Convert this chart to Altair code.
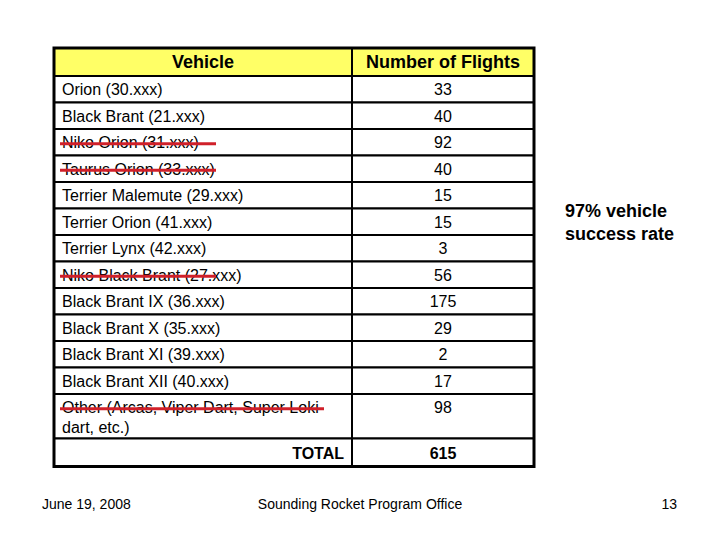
import altair as alt
import pandas as pd

# ---------------- data ----------------
header = ["Vehicle", "Number of Flights"]
vehicles = [
    "Orion  (30.xxx)",
    "Black Brant  (21.xxx)",
    "Niko Orion  (31.xxx)",
    "Taurus Orion  (33.xxx)",
    "Terrier Malemute  (29.xxx)",
    "Terrier Orion  (41.xxx)",
    "Terrier Lynx  (42.xxx)",
    "Niko Black Brant  (27.xxx)",
    "Black Brant IX  (36.xxx)",
    "Black Brant X  (35.xxx)",
    "Black Brant XI  (39.xxx)",
    "Black Brant XII  (40.xxx)",
    "Other (Arcas, Viper Dart, Super Loki\ndart, etc.)",
]
flights = [33, 40, 92, 40, 15, 15, 3, 56, 175, 29, 2, 17, 98]
struck = [False, False, True, True, False, False, False, True, False, False, False, False, True]
total_label = "TOTAL"
total_value = 615
note_text = "97% vehicle\nsuccess rate"
footer_left = "June 19, 2008"
footer_center = "Sounding Rocket Program Office"
footer_right = "13"

# ---------------- layout (page pixels) ----------------
FONT = "Liberation Sans"
LEFT, SPLIT, RIGHT = 54, 352, 534
TOP = 48
HEADER_H = 28
ROW_H = 26.5
EXTRA_LINE_H = 18
LINE_H = 20
TOTAL_H = 28
PAD = 8
TXT_DY = 1
YELLOW = "#ffff66"
RED = "#d0202a"

xs = alt.Scale(domain=[8, 712], nice=False, zero=False)
ys = alt.Scale(domain=[8, 532], nice=False, zero=False, reverse=True)


def X(f):
    return alt.X(f, type="quantitative", scale=xs, axis=None)


def X2(f):
    return alt.X2(f)


def Y(f):
    return alt.Y(f, type="quantitative", scale=ys, axis=None)


def Y2(f):
    return alt.Y2(f)


cells, body_txt, strikes = [], [], []
y = TOP
for i, h in enumerate(header):
    x0, x1 = (LEFT, SPLIT) if i == 0 else (SPLIT, RIGHT)
    cells.append(dict(x=x0, x2=x1, y=y, y2=y + HEADER_H, fill=YELLOW))
y += HEADER_H
for v, f, s in zip(vehicles, flights, struck):
    n = v.count("\n") + 1
    h = ROW_H + (n - 1) * EXTRA_LINE_H
    first_center = y + ROW_H / 2
    cells.append(dict(x=LEFT, x2=SPLIT, y=y, y2=y + h, fill="white"))
    cells.append(dict(x=SPLIT, x2=RIGHT, y=y, y2=y + h, fill="white"))
    body_txt.append(dict(
        label=v,
        vx=LEFT + PAD,
        vy=first_center + TXT_DY,
        num=str(f),
        nx=(SPLIT + RIGHT) / 2,
        ny=first_center + TXT_DY,
    ))
    if s:
        strikes.append(dict(x=LEFT + 6, x2=LEFT + 6 + (264 if n > 1 else 156),
                            y=first_center + 1.5))
    y += h
total_top = y
cells.append(dict(x=LEFT, x2=SPLIT, y=y, y2=y + TOTAL_H, fill="white"))
cells.append(dict(x=SPLIT, x2=RIGHT, y=y, y2=y + TOTAL_H, fill="white"))
y += TOTAL_H
table_bottom = y

cells_df = pd.DataFrame(cells)
body_df = pd.DataFrame(body_txt)
strike_df = pd.DataFrame(strikes)

grid = alt.Chart(cells_df).mark_rect(stroke="black", strokeWidth=2).encode(
    x=X("x"), x2=X2("x2"), y=Y("y"), y2=Y2("y2"),
    fill=alt.Fill("fill:N", scale=None),
)
outer = alt.Chart(pd.DataFrame([dict(x=LEFT, x2=RIGHT, y=TOP, y2=table_bottom)])).mark_rect(
    filled=False, stroke="black", strokeWidth=3
).encode(x=X("x"), x2=X2("x2"), y=Y("y"), y2=Y2("y2"))

header_df = pd.DataFrame([
    dict(t=header[0], x=(LEFT + SPLIT) / 2, y=TOP + HEADER_H / 2 + TXT_DY),
    dict(t=header[1], x=(SPLIT + RIGHT) / 2, y=TOP + HEADER_H / 2 + TXT_DY),
])
header_txt = alt.Chart(header_df).mark_text(
    font=FONT, fontSize=18, fontWeight="bold", align="center", baseline="middle", color="black"
).encode(x=X("x"), y=Y("y"), text="t:N")

veh_txt = alt.Chart(body_df).mark_text(
    font=FONT, fontSize=16, align="left", baseline="middle", color="black",
    lineBreak="\n", lineHeight=LINE_H,
).encode(x=X("vx"), y=Y("vy"), text="label:N")

num_txt = alt.Chart(body_df).mark_text(
    font=FONT, fontSize=16, align="center", baseline="middle", color="black"
).encode(x=X("nx"), y=Y("ny"), text="num:N")

strike = alt.Chart(strike_df).mark_rule(color=RED, strokeWidth=3).encode(
    x=X("x"), x2=X2("x2"), y=Y("y")
)

total_txt = alt.Chart(pd.DataFrame([dict(t=total_label, x=SPLIT - PAD,
                                         y=total_top + TOTAL_H / 2 + TXT_DY)])).mark_text(
    font=FONT, fontSize=16, fontWeight="bold", align="right", baseline="middle", color="black"
).encode(x=X("x"), y=Y("y"), text="t:N")
total_num = alt.Chart(pd.DataFrame([dict(t=str(total_value), x=(SPLIT + RIGHT) / 2,
                                         y=total_top + TOTAL_H / 2 + TXT_DY)])).mark_text(
    font=FONT, fontSize=16, fontWeight="bold", align="center", baseline="middle", color="black"
).encode(x=X("x"), y=Y("y"), text="t:N")

note = alt.Chart(pd.DataFrame([dict(t=note_text, x=565, y=212)])).mark_text(
    font=FONT, fontSize=18, fontWeight="bold", align="left", baseline="middle", color="black",
    lineBreak="\n", lineHeight=23,
).encode(x=X("x"), y=Y("y"), text="t:N")

footer_df = pd.DataFrame([
    dict(t=footer_left, x=42, y=503, a="left"),
    dict(t=footer_center, x=360, y=503, a="center"),
    dict(t=footer_right, x=677, y=503, a="right"),
])
footers = []
for a in ["left", "center", "right"]:
    footers.append(
        alt.Chart(footer_df[footer_df.a == a]).mark_text(
            font=FONT, fontSize=14, align=a, baseline="middle", color="black", dy=2
        ).encode(x=X("x"), y=Y("y"), text="t:N")
    )

chart = alt.layer(
    grid, outer, header_txt, veh_txt, num_txt, strike, total_txt, total_num, note, *footers
).properties(
    width=704, height=524, padding=0, autosize="none", background="white"
).configure_view(strokeWidth=0)

chart.save("out.html", embed_options={"renderer": "svg", "actions": False})
